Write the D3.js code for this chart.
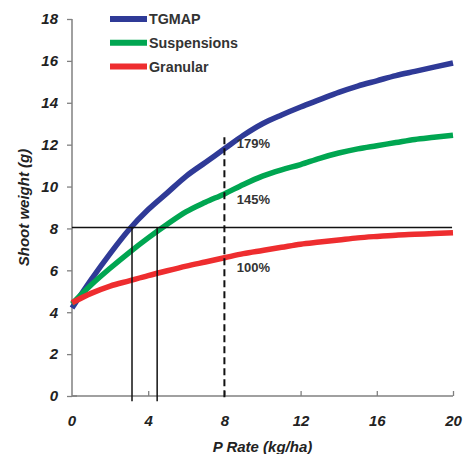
<!DOCTYPE html>
<html>
<head>
<meta charset="utf-8">
<script src="https://cdn.jsdelivr.net/npm/d3@7"></script>
<style>
  body { margin: 0; background: #fff; }
  text { font-family: Arial, "Liberation Sans", sans-serif; }
</style>
</head>
<body>
<div id="chart"></div>
<script>
const WIDTH = 464;
const HEIGHT = 454;
const MARGIN = { TOP: 19, BOTTOM: 58, LEFT: 72, RIGHT: 11 };

const width = WIDTH - MARGIN.LEFT - MARGIN.RIGHT;
const height = HEIGHT - MARGIN.TOP - MARGIN.BOTTOM;

// data
const rates = [0, 1, 2, 3, 4, 5, 6, 7, 8, 9, 10, 11, 12, 13, 14, 15, 16, 17, 18, 19, 20];
const tgmap = [4.2, 5.55, 6.8, 7.95, 8.9, 9.7, 10.5, 11.15, 11.8, 12.45, 13.0, 13.42, 13.8, 14.15, 14.5, 14.8, 15.05, 15.3, 15.5, 15.7, 15.9];
const suspensions = [4.4, 5.3, 6.1, 6.85, 7.55, 8.2, 8.8, 9.25, 9.65, 10.1, 10.5, 10.8, 11.05, 11.35, 11.6, 11.8, 11.95, 12.1, 12.25, 12.35, 12.45];
const granular = [4.45, 4.9, 5.25, 5.5, 5.75, 5.98, 6.2, 6.4, 6.6, 6.8, 6.95, 7.1, 7.25, 7.35, 7.45, 7.55, 7.62, 7.68, 7.72, 7.76, 7.8];

const seriesNames = ['TGMAP', 'Suspensions', 'Granular'];
const seriesColors = ['#2f3a97', '#00a651', '#ee2d2f'];
const seriesValues = [tgmap, suspensions, granular];

const xTicks = [0, 4, 8, 12, 16, 20];
const yTicks = [0, 2, 4, 6, 8, 10, 12, 14, 16, 18];

// reference lines and percent labels
const targetWeight = 8.05;
const crossRates = [3.15, 4.47];
const dashedRate = 8;
const dashedTop = 12.35;
const pctLabels = [
  { text: '179%', x: 8.65, y: 12.07 },
  { text: '145%', x: 8.65, y: 9.4 },
  { text: '100%', x: 8.65, y: 6.15 }
];

const svg = d3.select('#chart')
  .append('svg')
    .attr('width', WIDTH)
    .attr('height', HEIGHT);

const g = svg.append('g')
    .attr('transform', `translate(${MARGIN.LEFT}, ${MARGIN.TOP})`);

const x = d3.scaleLinear().domain([0, 20]).range([0, width]);
const y = d3.scaleLinear().domain([0, 18]).range([height, 0]);

// axes
const yAxis = g.append('g')
  .call(d3.axisLeft(y).tickValues(yTicks).tickSize(5).tickPadding(9).tickFormat(d3.format('d')));
const xAxis = g.append('g')
  .attr('transform', `translate(0, ${height})`)
  .call(d3.axisBottom(x).tickValues(xTicks.slice(1)).tickSize(-5).tickPadding(19).tickFormat(d3.format('d')));

// put the "0" x label back without a tick
xAxis.append('text')
  .attr('x', x(xTicks[0]))
  .attr('y', 19)
  .attr('dy', '0.71em')
  .text(xTicks[0]);

[xAxis, yAxis].forEach(a => {
  a.select('.domain').attr('stroke', '#808080').attr('stroke-width', 1.5);
  a.selectAll('.tick line').attr('stroke', '#808080').attr('stroke-width', 1.3);
  a.selectAll('text')
    .attr('fill', '#222')
    .attr('font-size', 15)
    .attr('font-weight', 'bold')
    .attr('font-style', 'italic')
    .attr('font-family', 'Arial, "Liberation Sans", sans-serif');
});
xAxis.selectAll('text').attr('text-anchor', 'middle');
xAxis.select('.domain').attr('d', `M0,0H${width}`);
yAxis.select('.domain').attr('d', `M0,${height}V0`);
yAxis.append('line').attr('x1', 0).attr('x2', 5).attr('y1', height).attr('y2', height)
  .attr('stroke', '#808080').attr('stroke-width', 1.5);

// curves
const line = d3.line()
  .x((d, i) => x(rates[i]))
  .y(d => y(d))
  .curve(d3.curveMonotoneX);

g.selectAll('.series')
  .data(seriesValues)
  .enter()
  .append('path')
    .attr('class', 'series')
    .attr('fill', 'none')
    .attr('stroke', (d, i) => seriesColors[i])
    .attr('stroke-width', 5.5)
    .attr('stroke-linecap', 'butt')
    .attr('d', line);

// reference lines
g.append('line')
  .attr('x1', x(0)).attr('x2', x(19.95))
  .attr('y1', y(targetWeight)).attr('y2', y(targetWeight))
  .attr('stroke', '#111').attr('stroke-width', 1.5);

g.selectAll('.cross')
  .data(crossRates)
  .enter()
  .append('line')
    .attr('class', 'cross')
    .attr('x1', d => x(d)).attr('x2', d => x(d))
    .attr('y1', y(targetWeight)).attr('y2', y(-0.25))
    .attr('stroke', '#111').attr('stroke-width', 1.5);

g.append('line')
  .attr('x1', x(dashedRate)).attr('x2', x(dashedRate))
  .attr('y1', y(dashedTop)).attr('y2', y(-0.25))
  .attr('stroke', '#111').attr('stroke-width', 2)
  .attr('stroke-dasharray', '7,4');

g.selectAll('.pct')
  .data(pctLabels)
  .enter()
  .append('text')
    .attr('class', 'pct')
    .attr('x', d => x(d.x))
    .attr('y', d => y(d.y))
    .attr('dy', '0.35em')
    .attr('font-size', 13)
    .attr('font-weight', 'bold')
    .attr('fill', '#333')
    .text(d => d.text);

// legend
const legend = svg.append('g').attr('transform', 'translate(110, 19)');
const items = legend.selectAll('.item')
  .data(seriesNames)
  .enter()
  .append('g')
    .attr('class', 'item')
    .attr('transform', (d, i) => `translate(0, ${i * 23.7})`);
items.append('line')
  .attr('x1', 0).attr('x2', 37)
  .attr('stroke', (d, i) => seriesColors[i])
  .attr('stroke-width', 6);
items.append('text')
  .attr('x', 39)
  .attr('dy', '0.36em')
  .attr('font-size', 14.3)
  .attr('font-weight', 'bold')
  .attr('fill', '#333')
  .text(d => d);

// axis titles
svg.append('text')
  .attr('x', MARGIN.LEFT + width / 2)
  .attr('y', 447)
  .attr('dy', '0.36em')
  .attr('text-anchor', 'middle')
  .attr('font-size', 15)
  .attr('font-weight', 'bold')
  .attr('font-style', 'italic')
  .attr('fill', '#222')
  .text('P Rate (kg/ha)');

svg.append('text')
  .attr('transform', `translate(24, ${MARGIN.TOP + height / 2}) rotate(-90)`)
  .attr('dy', '0.36em')
  .attr('text-anchor', 'middle')
  .attr('font-size', 15)
  .attr('font-weight', 'bold')
  .attr('font-style', 'italic')
  .attr('fill', '#222')
  .text('Shoot weight (g)');
</script>
</body>
</html>
